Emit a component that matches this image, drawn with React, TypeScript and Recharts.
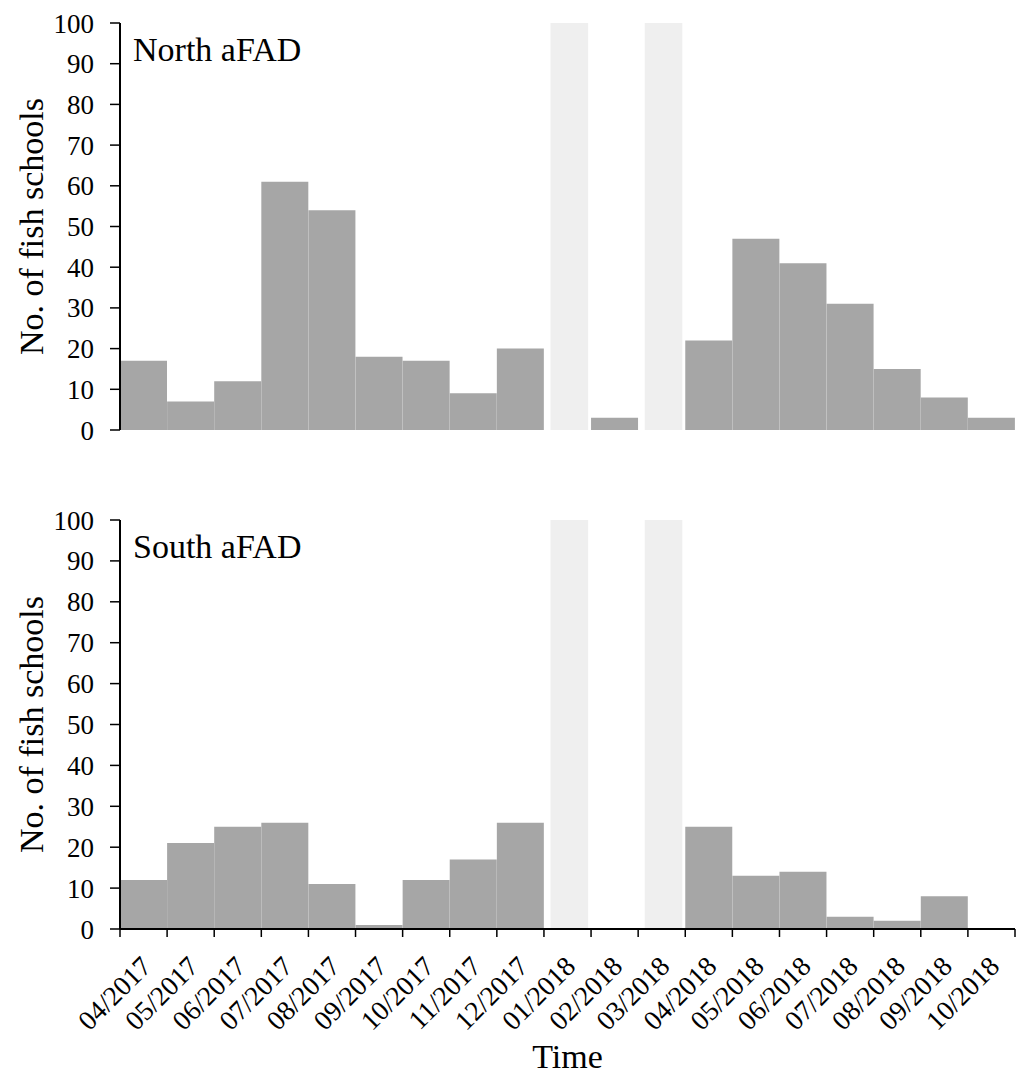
import { BarChart, Bar, XAxis, YAxis } from 'recharts';

const months = [
  '04/2017', '05/2017', '06/2017', '07/2017', '08/2017', '09/2017', '10/2017', '11/2017', '12/2017',
  '01/2018', '02/2018', '03/2018', '04/2018', '05/2018', '06/2018', '07/2018', '08/2018', '09/2018', '10/2018',
];
const northCounts = [17, 7, 12, 61, 54, 18, 17, 9, 20, 0, 3, 0, 22, 47, 41, 31, 15, 8, 3];
const southCounts = [12, 21, 25, 26, 11, 1, 12, 17, 26, 0, 0, 0, 25, 13, 14, 3, 2, 8, 0];
const closedMonths = ['01/2018', '03/2018'];
const yTicks = [0, 10, 20, 30, 40, 50, 60, 70, 80, 90, 100];
const xTicks = Array.from({ length: months.length + 1 }, (_, i) => i);

const FONT = "'Liberation Serif', 'DejaVu Serif', serif";
const BAR_FILL = '#a6a6a6';
const SHADE_FILL = '#efefef';

function buildRows(counts: number[]) {
  return months.map((m, i) => ({
    month: m,
    pos: i + 0.5,
    count: counts[i],
    closed: closedMonths.includes(m) ? 100 : 0,
  }));
}

// shaded "no data" months are drawn a bit narrower than their slot
const ShadeShape = (props: any) => {
  const { x, y, width, height } = props;
  if (!height || height <= 0) return null;
  return <rect x={x + width * 0.14} y={y} width={width * 0.8} height={height} fill={SHADE_FILL} />;
};

const MonthTick = (props: any) => {
  const { x, y, payload } = props;
  const label = months[payload.value];
  if (!label) return null;
  const bx = x + 33;
  const by = y + 31;
  return (
    <text x={bx} y={by} textAnchor="end" fill="#000" transform={`rotate(-45 ${bx} ${by})`}
      style={{ fontFamily: FONT, fontSize: 27.5 }}>
      {label}
    </text>
  );
};

const YTitle = (props: any) => {
  const { viewBox } = props;
  const cy = viewBox.y + viewBox.height / 2;
  return (
    <text x={43} y={cy} textAnchor="middle" fill="#000" transform={`rotate(-90 43 ${cy})`}
      style={{ fontFamily: FONT, fontSize: 34 }}>
      No. of fish schools
    </text>
  );
};

interface PanelProps {
  title: string;
  counts: number[];
  height: number;
  bottom: boolean;
}

function Panel({ title, counts, height, bottom }: PanelProps) {
  const data = buildRows(counts);
  return (
    <BarChart width={1017} height={height} data={data} barCategoryGap={0} barGap={0}
      margin={{ top: 23, right: 2, bottom: bottom ? 0 : 20, left: 0 }}
      style={{ fontFamily: FONT }}>
      <XAxis type="number" dataKey="pos" domain={[0, months.length]} ticks={xTicks}
        allowDataOverflow interval={0}
        height={bottom ? 146 : 0}
        tick={bottom ? <MonthTick /> : false}
        tickLine={bottom ? { stroke: '#000', strokeWidth: 1.5 } : false}
        tickSize={8} tickMargin={0}
        axisLine={{ stroke: bottom ? '#000' : '#333', strokeWidth: bottom ? 2 : 1.5 }}
        label={bottom ? { value: 'Time', position: 'insideBottom', offset: 7, fill: '#000', style: { fontFamily: FONT, fontSize: 34 } } : undefined}
      />
      <XAxis xAxisId="top" orientation="top" type="number" dataKey="pos" domain={[0, months.length]}
        height={0} tick={false} tickLine={false} axisLine={{ stroke: '#000', strokeWidth: 2 }} />
      <YAxis type="number" domain={[0, 100]} ticks={yTicks} interval={0} width={120}
        tick={{ fill: '#000', style: { fontFamily: FONT, fontSize: 27 } }} tickSize={10} tickMargin={16}
        tickLine={{ stroke: '#000', strokeWidth: 1.5 }}
        axisLine={{ stroke: '#000', strokeWidth: 2 }}
        label={<YTitle />}
      />
      <YAxis yAxisId="right" orientation="right" type="number" domain={[0, 100]} width={0}
        tick={false} tickLine={false} axisLine={{ stroke: '#000', strokeWidth: 2 }} />
      <Bar dataKey="count" stackId="s" fill={BAR_FILL} isAnimationActive={false} />
      <Bar dataKey="closed" stackId="s" shape={<ShadeShape />} isAnimationActive={false} />
      <text x={133} y={61} fill="#000" style={{ fontFamily: FONT, fontSize: 34 }}>{title}</text>
    </BarChart>
  );
}

export default function App() {
  return (
    <div style={{ position: 'absolute', left: 0, top: 0, width: 1017, height: 1075, background: '#fff', fontFamily: FONT }}>
      <div style={{ position: 'absolute', left: 0, top: 0 }}>
        <Panel title="North aFAD" counts={northCounts} height={450} bottom={false} />
      </div>
      <div style={{ position: 'absolute', left: 0, top: 497 }}>
        <Panel title="South aFAD" counts={southCounts} height={578} bottom={true} />
      </div>
    </div>
  );
}
